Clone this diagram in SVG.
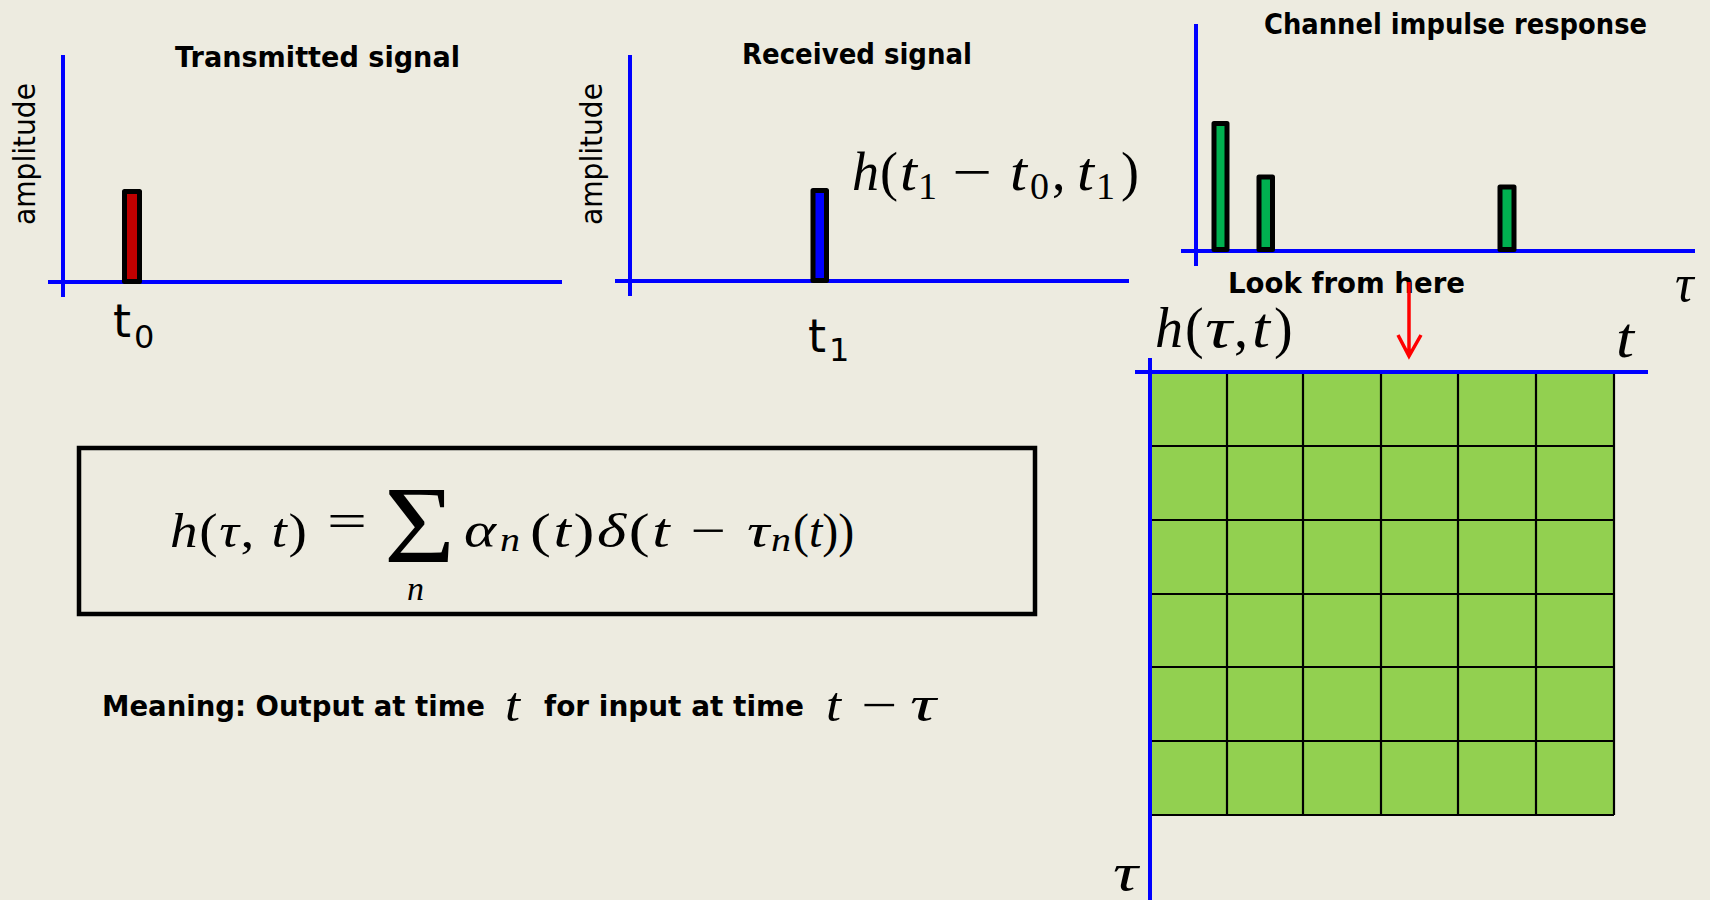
<svg xmlns="http://www.w3.org/2000/svg" width="1710" height="900" viewBox="0 0 1710 900">
<style>
.axis{stroke:#0000FF;stroke-width:4;fill:none}
.bar{stroke:#000;stroke-width:5;stroke-linejoin:round}
.title{font-family:"DejaVu Sans",sans-serif;font-weight:bold;font-size:29px;fill:#000}
.lbl{font-family:"DejaVu Sans",sans-serif;font-size:30px;fill:#000}
.tl{font-family:"DejaVu Sans",sans-serif;font-size:46px;fill:#000}
.ts{font-family:"DejaVu Sans",sans-serif;font-size:32px;fill:#000}
.m{font-family:"Liberation Serif","Times New Roman",serif;fill:#000}
.i{font-style:italic}
.grid{stroke:#000;stroke-width:2.2;fill:none}
</style>
<rect width="1710" height="900" fill="#EDEBE0"/>

<g id="transmitted">
  <line class="axis" x1="63" y1="55" x2="63" y2="297"/>
  <line class="axis" x1="48" y1="282" x2="562" y2="282"/>
  <rect class="bar" x="124.5" y="191.5" width="15" height="90" fill="#C00000"/>
  <text class="title" x="175" y="67" textLength="285" lengthAdjust="spacingAndGlyphs">Transmitted signal</text>
  <text class="lbl" transform="translate(35,154) rotate(-90)" text-anchor="middle" textLength="142" lengthAdjust="spacingAndGlyphs">amplitude</text>
  <text class="tl" x="113" y="337">t</text>
  <text class="ts" x="134" y="348">0</text>
</g>

<g id="received">
  <line class="axis" x1="630" y1="55" x2="630" y2="296"/>
  <line class="axis" x1="615" y1="281" x2="1129" y2="281"/>
  <rect class="bar" x="813" y="190.5" width="13.5" height="90" fill="#0000FF"/>
  <text class="title" x="742" y="64" textLength="230" lengthAdjust="spacingAndGlyphs">Received signal</text>
  <text class="lbl" transform="translate(602,154) rotate(-90)" text-anchor="middle" textLength="142" lengthAdjust="spacingAndGlyphs">amplitude</text>
  <text class="tl" x="808" y="352">t</text>
  <text class="ts" x="829" y="361">1</text>
  <g font-size="54">
    <text class="m i" x="852" y="190">h</text>
    <text class="m" x="880" y="190">(</text>
    <text class="m i" x="900" y="190" textLength="17" lengthAdjust="spacingAndGlyphs">t</text>
    <text class="m" x="918" y="199" font-size="38">1</text>
    <text class="m" x="952" y="190" textLength="40" lengthAdjust="spacingAndGlyphs">−</text>
    <text class="m i" x="1010" y="190" textLength="17" lengthAdjust="spacingAndGlyphs">t</text>
    <text class="m" x="1030" y="199" font-size="38">0</text>
    <text class="m" x="1052" y="190">,</text>
    <text class="m i" x="1077" y="190" textLength="17" lengthAdjust="spacingAndGlyphs">t</text>
    <text class="m" x="1096" y="199" font-size="38">1</text>
    <text class="m" x="1121" y="190">)</text>
  </g>
</g>

<g id="channel-impulse-response">
  <line class="axis" x1="1196" y1="24" x2="1196" y2="266"/>
  <line class="axis" x1="1181" y1="251" x2="1695" y2="251"/>
  <rect class="bar" x="1214" y="123.5" width="13" height="126" fill="#00B050"/>
  <rect class="bar" x="1259" y="177" width="13.5" height="72.5" fill="#00B050"/>
  <rect class="bar" x="1500" y="187" width="14" height="62.5" fill="#00B050"/>
  <text class="title" x="1264" y="34" textLength="383" lengthAdjust="spacingAndGlyphs">Channel impulse response</text>
  <text class="m i" x="1675" y="301" font-size="52">τ</text>
</g>

<g id="time-varying-grid">
  <rect x="1150" y="373" width="464" height="442" fill="#92D050"/>
  <g class="grid">
    <line x1="1227" y1="373" x2="1227" y2="815"/>
    <line x1="1303" y1="373" x2="1303" y2="815"/>
    <line x1="1381" y1="373" x2="1381" y2="815"/>
    <line x1="1458" y1="373" x2="1458" y2="815"/>
    <line x1="1536" y1="373" x2="1536" y2="815"/>
    <line x1="1614" y1="373" x2="1614" y2="815"/>
    <line x1="1150" y1="446" x2="1614" y2="446"/>
    <line x1="1150" y1="520" x2="1614" y2="520"/>
    <line x1="1150" y1="594" x2="1614" y2="594"/>
    <line x1="1150" y1="667" x2="1614" y2="667"/>
    <line x1="1150" y1="741" x2="1614" y2="741"/>
    <line x1="1150" y1="815" x2="1614" y2="815"/>
  </g>
  <line class="axis" x1="1135" y1="372" x2="1648" y2="372"/>
  <line class="axis" x1="1150" y1="358" x2="1150" y2="900"/>
  <g font-size="56">
    <text class="m i" x="1155" y="347">h</text>
    <text class="m" x="1185" y="347">(</text>
    <text class="m i" x="1205" y="347" textLength="27" lengthAdjust="spacingAndGlyphs">τ</text>
    <text class="m" x="1234" y="347">,</text>
    <text class="m i" x="1252" y="347" textLength="18" lengthAdjust="spacingAndGlyphs">t</text>
    <text class="m" x="1274" y="347">)</text>
    <text class="m i" x="1616" y="357" textLength="18" lengthAdjust="spacingAndGlyphs">t</text>
  </g>
  <text class="m i" x="1113" y="890" font-size="52" textLength="25" lengthAdjust="spacingAndGlyphs">τ</text>
  <text class="title" x="1228" y="293" textLength="237" lengthAdjust="spacingAndGlyphs">Look from here</text>
</g>

<g id="equation">
  <rect x="79" y="448" width="956" height="166" fill="none" stroke="#000" stroke-width="4.5"/>
  <g transform="translate(170,547) scale(1.15,1)">
    <text class="m" x="0" y="0" font-size="48" textLength="119" lengthAdjust="spacing"><tspan class="i">h</tspan>(<tspan class="i">τ</tspan>, <tspan class="i">t</tspan>)</text>
  </g>
  <text class="m" x="327" y="537" font-size="48" textLength="40" lengthAdjust="spacingAndGlyphs">=</text>
  <text class="m" x="384" y="562" font-size="110" textLength="71" lengthAdjust="spacingAndGlyphs">Σ</text>
  <text class="m i" x="407" y="600" font-size="34">n</text>
  <text class="m i" x="464" y="547" font-size="50" textLength="32" lengthAdjust="spacingAndGlyphs">α</text>
  <text class="m i" x="500" y="551" font-size="34" textLength="20" lengthAdjust="spacingAndGlyphs">n</text>
  <g transform="translate(530,547) scale(1.28,1)">
    <text class="m" x="0" y="0" font-size="49" textLength="187" lengthAdjust="spacing">(<tspan class="i">t</tspan>)<tspan class="i">δ</tspan>(<tspan class="i">t</tspan> − <tspan class="i">τ</tspan></text>
  </g>
  <text class="m i" x="771" y="551" font-size="34" textLength="20" lengthAdjust="spacingAndGlyphs">n</text>
  <text class="m" x="793" y="547" font-size="48"><tspan>(</tspan><tspan class="i">t</tspan><tspan>))</tspan></text>
</g>

<g id="meaning">
  <text class="title" x="102" y="716" textLength="383" lengthAdjust="spacingAndGlyphs">Meaning: Output at time</text>
  <text class="m i" x="505" y="721" font-size="48" textLength="15" lengthAdjust="spacingAndGlyphs">t</text>
  <text class="title" x="544" y="716" textLength="260" lengthAdjust="spacingAndGlyphs">for input at time</text>
  <text class="m i" x="826" y="721" font-size="48" textLength="15" lengthAdjust="spacingAndGlyphs">t</text>
  <text class="m" x="861" y="721" font-size="48" textLength="36" lengthAdjust="spacingAndGlyphs">−</text>
  <text class="m i" x="910" y="721" font-size="50" textLength="26" lengthAdjust="spacingAndGlyphs">τ</text>
</g>

<g id="connectors">
  <path d="M1409,282 L1409,355 M1398,335 L1409,356 L1421,335" fill="none" stroke="#FF0000" stroke-width="3.5" stroke-linejoin="miter"/>
</g>
</svg>
